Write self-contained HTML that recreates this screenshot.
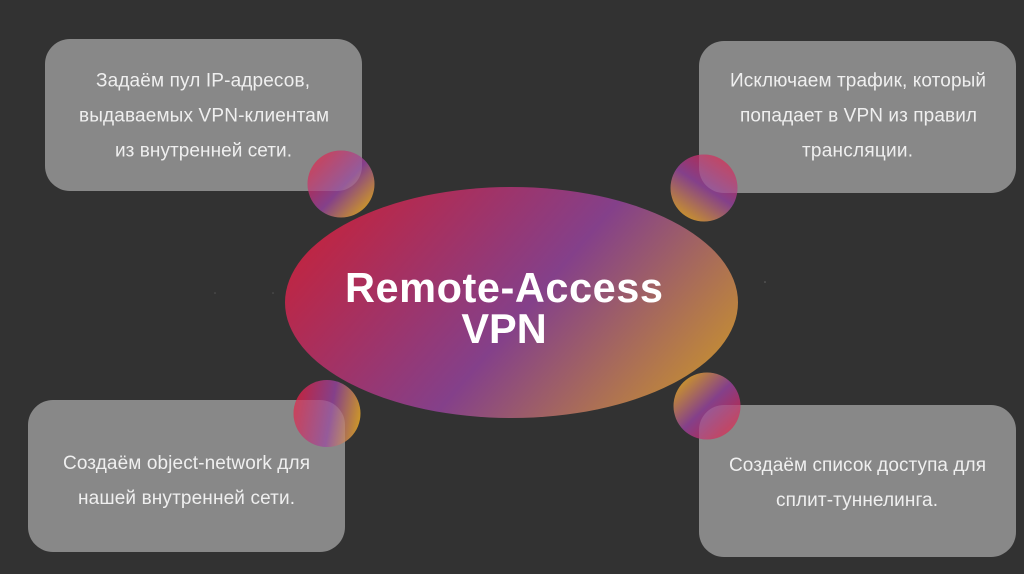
<!DOCTYPE html>
<html><head><meta charset="utf-8"><style>
html,body{margin:0;padding:0;background:#323232;width:1024px;height:574px;overflow:hidden}
svg{display:block}
.t{font-family:"Liberation Sans",sans-serif;font-size:19px;fill:#efefef;text-anchor:middle}
.h{font-family:"Liberation Sans",sans-serif;font-size:41.5px;font-weight:bold;fill:#fff;text-anchor:middle}
</style></head><body>
<svg width="1024" height="574" viewBox="0 0 1024 574" xmlns="http://www.w3.org/2000/svg">
<defs>
<linearGradient id="e" gradientUnits="userSpaceOnUse" x1="358" y1="167" x2="692" y2="453"><stop offset="0" stop-color="#c2243f"/><stop offset=".5" stop-color="#84408a"/><stop offset="1" stop-color="#cf9a25"/></linearGradient>
<linearGradient id="c1" gradientUnits="userSpaceOnUse" x1="312" y1="158" x2="368" y2="210"><stop offset="0" stop-color="#c2243f"/><stop offset=".55" stop-color="#84408a"/><stop offset="1" stop-color="#cf9a25"/></linearGradient>
<linearGradient id="c2" gradientUnits="userSpaceOnUse" x1="728" y1="154" x2="684" y2="222"><stop offset="0" stop-color="#c2243f"/><stop offset=".5" stop-color="#84408a"/><stop offset="1" stop-color="#cf9a25"/></linearGradient>
<linearGradient id="c3" gradientUnits="userSpaceOnUse" x1="293" y1="406" x2="362" y2="418"><stop offset="0" stop-color="#c2243f"/><stop offset=".55" stop-color="#84408a"/><stop offset="1" stop-color="#cf9a25"/></linearGradient>
<linearGradient id="c4" gradientUnits="userSpaceOnUse" x1="680" y1="378" x2="734" y2="434"><stop offset="0" stop-color="#cf9a25"/><stop offset=".5" stop-color="#84408a"/><stop offset="1" stop-color="#c2243f"/></linearGradient>
<clipPath id="k1"><circle cx="341" cy="184" r="33.5"/></clipPath>
<clipPath id="k2"><circle cx="704" cy="188" r="33.5"/></clipPath>
<clipPath id="k3"><circle cx="327" cy="413.5" r="33.5"/></clipPath>
<clipPath id="k4"><circle cx="707" cy="406" r="33.5"/></clipPath>
</defs>
<rect width="1024" height="574" fill="#323232"/>
<rect x="45" y="39" width="317" height="152" rx="25" fill="#888"/>
<rect x="699" y="41" width="317" height="152" rx="25" fill="#888"/>
<rect x="28" y="400" width="317" height="152" rx="25" fill="#888"/>
<rect x="699" y="405" width="317" height="152" rx="25" fill="#888"/>
<circle cx="215" cy="293" r="0.8" fill="#555"/>
<circle cx="273" cy="293" r="0.8" fill="#555"/>
<circle cx="765" cy="282" r="0.8" fill="#666"/>
<ellipse cx="511.5" cy="302.5" rx="226.5" ry="115.5" fill="url(#e)"/>
<circle cx="341" cy="184" r="33.5" fill="url(#c1)"/>
<circle cx="704" cy="188" r="33.5" fill="url(#c2)"/>
<circle cx="327" cy="413.5" r="33.5" fill="url(#c3)"/>
<circle cx="707" cy="406" r="33.5" fill="url(#c4)"/>
<g fill="#fff" fill-opacity=".14">
<rect x="45" y="39" width="317" height="152" rx="25" clip-path="url(#k1)"/>
<rect x="699" y="41" width="317" height="152" rx="25" clip-path="url(#k2)"/>
<rect x="28" y="400" width="317" height="152" rx="25" clip-path="url(#k3)"/>
<rect x="699" y="405" width="317" height="152" rx="25" clip-path="url(#k4)"/>
</g>
<text class="t" x="203" y="86.5" textLength="214" lengthAdjust="spacing">Задаём пул IP-адресов,</text>
<text class="t" x="204" y="121.5" textLength="250" lengthAdjust="spacing">выдаваемых VPN-клиентам</text>
<text class="t" x="203.5" y="156.5" textLength="177" lengthAdjust="spacing">из внутренней сети.</text>
<text class="t" x="858" y="86.5" textLength="256" lengthAdjust="spacing">Исключаем трафик, который</text>
<text class="t" x="858.5" y="121.5" textLength="237" lengthAdjust="spacing">попадает в VPN из правил</text>
<text class="t" x="857.5" y="156.5" textLength="111" lengthAdjust="spacing">трансляции.</text>
<text class="t" x="186.5" y="469" textLength="247" lengthAdjust="spacing">Создаём object-network для</text>
<text class="t" x="186.5" y="504" textLength="217" lengthAdjust="spacing">нашей внутренней сети.</text>
<text class="t" x="857.5" y="471" textLength="257" lengthAdjust="spacing">Создаём список доступа для</text>
<text class="t" x="857" y="506" textLength="162" lengthAdjust="spacing">сплит-туннелинга.</text>
<text class="h" x="504" y="302" textLength="318" lengthAdjust="spacing">Remote-Access</text>
<text class="h" x="504" y="343">VPN</text>
</svg>
</body></html>
